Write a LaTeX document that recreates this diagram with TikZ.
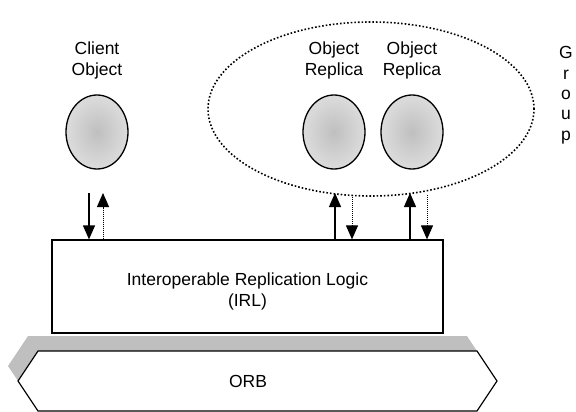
\documentclass[tikz,border=0pt]{standalone}
\usepackage{fontspec}
\setmainfont{Liberation Sans}
\usetikzlibrary{arrows.meta,shapes.geometric,shapes.symbols,shadows}

% soft grey shading for the object bubbles
\pgfdeclareradialshading{objshade}{\pgfpoint{0bp}{0bp}}{%
  color(0bp)=(black!25); color(22bp)=(black!15); color(50bp)=(black!8)}

\begin{document}
\begin{tikzpicture}[x=1pt,y=-1pt,
  lbl/.style={font=\fontsize{17.5}{21}\selectfont, align=center, inner sep=0pt},
  obj/.style={ellipse, draw, line width=1.3pt, minimum width=62pt,
    minimum height=74pt, inner sep=0pt, shading=objshade},
  solidarr/.style={line width=1.2pt, -{Triangle[width=12pt,length=14pt]}},
  dotarr/.style={line width=1pt, dash pattern=on 1pt off 1pt,
    -{Triangle[width=12pt,length=14pt]}}
]
\useasboundingbox (0,0) rectangle (576,412);

% object group boundary
\node[ellipse, draw, dotted, line width=1.6pt, minimum width=326pt,
  minimum height=174pt, inner sep=0pt] (grp) at (371,109) {};

% objects
\node[obj] (cl) at (97,132) {};
\node[obj] (r1) at (334,132) {};
\node[obj] (r2) at (412,132) {};

% labels
\node[lbl, anchor=north] (cll) at (97,42) {Client\\Object};
\node[lbl, anchor=north] (r1l) at (334,42) {Object\\Replica};
\node[lbl, anchor=north] (r2l) at (412,42) {Object\\Replica};
\node[lbl, font=\fontsize{17.5}{20.3}\selectfont, anchor=north] (grpl)
  at (566,46.5) {G\\r\\o\\u\\p};

% ORB layer with its shadow
\node[signal, signal to=west and east, draw, line width=1.2pt, fill=white,
  minimum width=479pt, minimum height=60pt, signal pointer angle=112.6,
  inner sep=0pt,
  general shadow={fill=black!25, shadow xshift=-10pt, shadow yshift=15pt}]
  (orb) at (257.5,381) {};
\node[lbl] (orbl) at (248,381) {ORB};

% replication logic layer
\node[draw, line width=1.2pt, fill=white, minimum width=391pt,
  minimum height=93pt, inner sep=0pt] (irl) at (247.5,286.5) {};
\node[lbl] (irll) at (247.5,291) {Interoperable Replication Logic\\(IRL)};

% request / reply arrows
\coordinate (c1) at (89,193);
\coordinate (c2) at (103,193);
\coordinate (p1) at (335,193);
\coordinate (q1) at (352,195);
\coordinate (p2) at (410,193);
\coordinate (q2) at (427,195);

\draw[solidarr] (c1) -- (c1 |- irl.north);
\draw[dotarr] (c2 |- irl.north) -- (c2);
\draw[solidarr] (p1 |- irl.north) -- (p1);
\draw[dotarr] (q1) -- (q1 |- irl.north);
\draw[solidarr] (p2 |- irl.north) -- (p2);
\draw[dotarr] (q2) -- (q2 |- irl.north);
\end{tikzpicture}
\end{document}
